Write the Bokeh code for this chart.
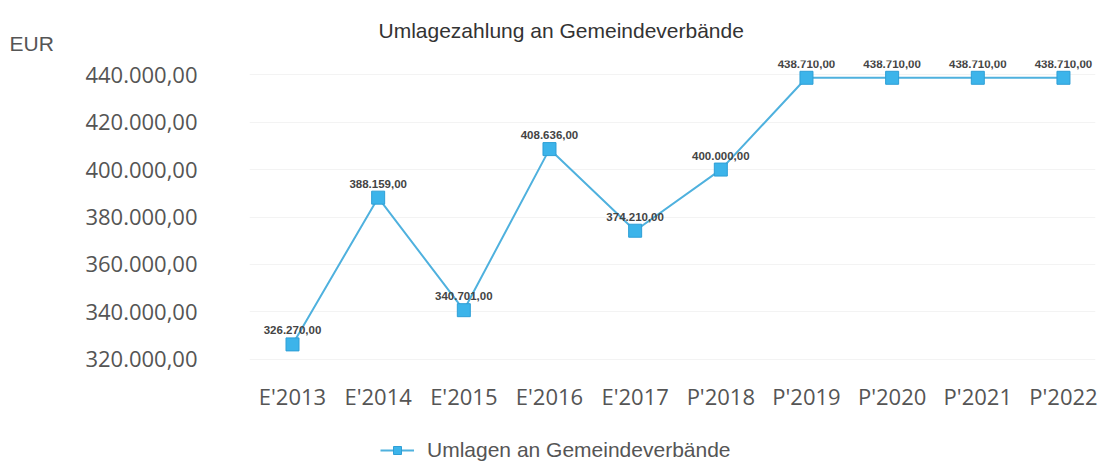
from bokeh.plotting import figure
from bokeh.layouts import column
from bokeh.core.properties import value
from bokeh.models import (Range1d, FixedTicker, ColumnDataSource, LabelSet, Title,
                          Legend, LegendItem)
from bokeh.embed import file_html
from bokeh.resources import INLINE

categories = ["E'2013", "E'2014", "E'2015", "E'2016", "E'2017",
              "P'2018", "P'2019", "P'2020", "P'2021", "P'2022"]
values = [326270.00, 388159.00, 340701.00, 408636.00, 374210.00,
          400000.00, 438710.00, 438710.00, 438710.00, 438710.00]
y_ticks = [320000, 340000, 360000, 380000, 400000, 420000, 440000]
title_text = "Umlagezahlung an Gemeindeverbände"
unit_text = "EUR"
series_name = "Umlagen an Gemeindeverbände"

LINE_COLOR = "#4FB1DE"
MARK_FILL = "#3CB4EA"
MARK_LINE = "#2E9FD6"


def de_fmt(v, sep="."):
    s = f"{v:,.2f}"
    return s.replace(",", "#").replace(".", ",").replace("#", sep)


xs = list(range(len(categories)))
src = ColumnDataSource(dict(x=xs, y=values, lbl=[de_fmt(v) for v in values]))

p = figure(width=1103, height=430, output_backend="svg", toolbar_location=None,
           title=None,
           x_range=Range1d(-0.502, 9.374), y_range=Range1d(314000, 446000),
           min_border_left=249, min_border_right=8, min_border_top=60,
           min_border_bottom=57)
p.outline_line_color = None
p.background_fill_color = "white"
p.border_fill_color = "white"

# axes
p.xaxis.ticker = FixedTicker(ticks=xs)
p.xaxis.major_label_overrides = {i: c for i, c in enumerate(categories)}
p.yaxis.ticker = FixedTicker(ticks=y_ticks)
p.yaxis.major_label_overrides = {t: de_fmt(t) for t in y_ticks}
for ax in (p.xaxis[0], p.yaxis[0]):
    ax.axis_line_color = None
    ax.major_tick_line_color = None
    ax.minor_tick_line_color = None
    ax.major_label_text_font = "Open Sans"
    ax.major_label_text_font_size = "22px"
    ax.major_label_text_color = "#555555"
p.yaxis.major_label_standoff = 46
p.xaxis.major_label_standoff = 1
p.xgrid.grid_line_color = None
p.ygrid.grid_line_color = "#f3f3f3"

line = p.line("x", "y", source=src, line_color=LINE_COLOR, line_width=2)
pts = p.scatter("x", "y", source=src, marker="square", size=13,
                fill_color=MARK_FILL, line_color=MARK_LINE, line_width=1)

labels = LabelSet(x="x", y="y", text="lbl", source=src, y_offset=14,
                  text_align="center", text_baseline="middle",
                  text_font=value("Liberation Sans"), text_font_size="11.5px",
                  text_font_style="bold", text_color="#444444")
p.add_layout(labels)

# unit and title (stacked above the frame)
p.add_layout(Title(text=unit_text, align="left", offset=-240, standoff=12,
                   text_font="Arial", text_font_size="21px",
                   text_font_style="normal", text_color="#555555"), "above")
p.add_layout(Title(text=title_text, align="left", offset=129, standoff=-36,
                   text_font="Arial", text_font_size="21px",
                   text_font_style="normal", text_color="#333333"), "above")

# legend strip below the chart (its frame is aligned with the chart's frame);
# its ranges keep the series out of view, only the legend entry is shown
lg = figure(width=1103, height=33, output_backend="svg", toolbar_location=None,
            title=None, x_axis_type=None, y_axis_type=None,
            x_range=Range1d(100, 101), y_range=Range1d(0, 1),
            min_border_left=0, min_border_right=0, min_border_top=0,
            min_border_bottom=0)
lg.outline_line_color = None
lg.xgrid.grid_line_color = None
lg.ygrid.grid_line_color = None
lg_line = lg.line("x", "y", source=src, line_color=LINE_COLOR, line_width=2)
lg_pts = lg.scatter("x", "y", source=src, marker="square", size=13,
                    fill_color=MARK_FILL, line_color=MARK_LINE, line_width=1)
legend = Legend(items=[LegendItem(label=series_name, renderers=[lg_line, lg_pts])],
                location=(131, 1), orientation="horizontal",
                label_text_font="Arial", label_text_font_size="21px",
                label_text_color="#555555", glyph_width=34, glyph_height=20,
                padding=0, margin=0, spacing=0, label_standoff=13,
                border_line_color=None, background_fill_alpha=0)
lg.add_layout(legend, "center")

layout = column(p, lg, spacing=0)
open("out.html", "w").write(file_html(layout, INLINE))
